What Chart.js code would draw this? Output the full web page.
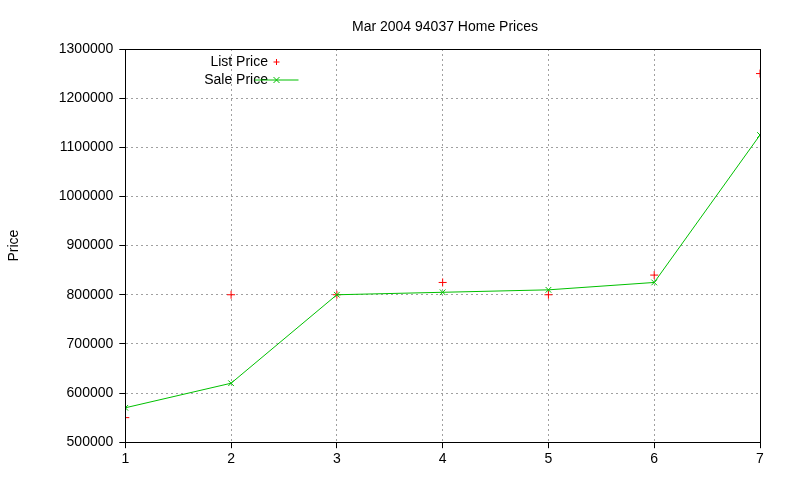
<!DOCTYPE html>
<html><head><meta charset="utf-8">
<script src="https://cdn.jsdelivr.net/npm/chart.js@4/dist/chart.umd.min.js"></script>
<style>html,body{margin:0;padding:0;background:#fff}#w{width:800px;height:480px}</style>
</head><body><div id="w"><canvas id="c"></canvas></div>
<script>
const categories = [1,2,3,4,5,6,7];
const listPrice = [550000,800000,800000,825000,800000,840000,1250000];
const salePrice = [570000,620000,800000,805000,810000,825000,1125000];
const titleText = 'Mar 2004 94037 Home Prices';
const yLabel = 'Price';
const legendLabels = ['List Price','Sale Price'];
const font = "'Liberation Sans', Arial, sans-serif";

const legendPlugin = {
  id:'gpLegend',
  afterDraw(chart){
    const ctx = chart.ctx, a = chart.chartArea;
    ctx.save();
    ctx.font = '14px ' + font; ctx.fillStyle = '#000';
    ctx.textAlign='center'; ctx.textBaseline='middle';
    ctx.fillText(titleText, 445, 27);
    ctx.textAlign='right';
    const xr = 268, y1 = a.top + 13, y2 = a.top + 31;
    ctx.fillText(legendLabels[0], xr, y1);
    ctx.fillText(legendLabels[1], xr, y2);
    ctx.strokeStyle='#ff0000'; ctx.lineWidth=1;
    const px = 276.5;
    ctx.beginPath(); ctx.moveTo(px-3,y1); ctx.lineTo(px+3,y1); ctx.moveTo(px,y1-3); ctx.lineTo(px,y1+3); ctx.stroke();
    ctx.strokeStyle='#00c000';
    ctx.beginPath(); ctx.moveTo(px-22,y2); ctx.lineTo(px+22,y2); ctx.stroke();
    ctx.beginPath(); ctx.moveTo(px-3,y2-3); ctx.lineTo(px+3,y2+3); ctx.moveTo(px+3,y2-3); ctx.lineTo(px-3,y2+3); ctx.stroke();
    ctx.restore();
  }
};

new Chart(document.getElementById('c'), {
  type:'line',
  data:{ labels: categories, datasets:[
    { label:legendLabels[1], data: categories.map((x,i)=>({x, y:salePrice[i]})), borderColor:'#00c000', borderWidth:1, pointStyle:'crossRot', pointRadius:4, pointBorderColor:'#00c000', pointBorderWidth:1, fill:false, tension:0 },
    { label:legendLabels[0], data: categories.map((x,i)=>({x, y:listPrice[i]})), showLine:false, borderColor:'#ff0000', pointStyle:'cross', pointRadius:4, pointBorderColor:'#ff0000', pointBorderWidth:1 }
  ]},
  options:{
    responsive:true, maintainAspectRatio:false, animation:false,
    layout:{padding:{top:49,right:40,left:2,bottom:9}},
    plugins:{ legend:{display:false}, tooltip:{enabled:false}, title:{display:false} },
    scales:{
      x:{ type:'linear', min:1, max:7,
        ticks:{stepSize:1, color:'#000', font:{family:font,size:14}},
        grid:{color:'#a0a0a0', tickLength:6, tickColor:'#000'},
        border:{color:'#000', dash:[2,3]}
      },
      y:{ min:500000, max:1300000,
        title:{display:true, text:yLabel, color:'#000', font:{family:font,size:14}, padding:{bottom:30}},
        ticks:{stepSize:100000, color:'#000', font:{family:font,size:14}, padding:6, callback:v=>String(v)},
        grid:{color:'#a0a0a0', tickLength:6, tickColor:'#000'},
        border:{color:'#000', dash:[2,3]}
      }
    }
  },
  plugins:[legendPlugin, {id:'box', afterDraw(c){const a=c.chartArea,x=c.ctx;x.save();x.strokeStyle='#000';x.lineWidth=1;x.strokeRect(Math.round(a.left)+0.5,Math.round(a.top)+0.5,Math.round(a.right-a.left),Math.round(a.bottom-a.top));x.restore();}}]
});
</script></body></html>
